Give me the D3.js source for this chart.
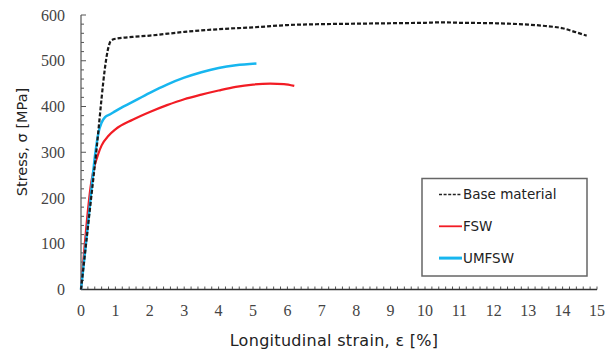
<!DOCTYPE html>
<html>
<head>
<meta charset="utf-8">
<script src="https://cdn.jsdelivr.net/npm/d3@7"></script>
<style>
  body { margin: 0; background: #fff; }
  svg { display: block; }
</style>
</head>
<body>
<div id="chart"></div>
<script>
// stress-strain curves, strain in %, stress in MPa
var baseStrain = [0, 0.4, 0.8, 0.86, 1.0, 1.5, 2, 3, 4, 5, 6, 7, 8, 9, 10, 10.5, 11, 12, 13, 13.5, 14, 14.4, 14.7];
var baseStress = [0, 270, 530, 543, 548, 552, 555, 563, 569, 573, 578, 580, 581, 582, 583, 584, 583, 582, 579, 576, 571, 562, 555];

var fswStrain = [0, 0.3, 0.4, 0.5, 0.6, 0.8, 1.0, 1.5, 2.0, 2.5, 3.0, 3.5, 4.0, 4.5, 5.0, 5.5, 5.9, 6.2];
var fswStress = [0, 235, 272, 296, 315, 336, 350, 371, 388, 403, 416, 426, 435, 443, 448, 450, 449, 445];

var umStrain = [0, 0.2, 0.42, 0.5, 0.6, 0.7, 0.85, 1.0, 1.5, 2.0, 2.5, 3.0, 3.5, 4.0, 4.5, 5.1];
var umStress = [0, 140, 300, 340, 365, 377, 383, 390, 410, 430, 448, 463, 475, 484, 490, 494];

var xTicks = d3.range(0, 16, 1);
var yTicks = [0, 100, 200, 300, 400, 500, 600];
var seriesNames = ["Base material", "FSW", "UMFSW"];

var margin = { top: 15, right: 17, bottom: 63.5, left: 81 },
    width = 614 - margin.left - margin.right,
    height = 353 - margin.top - margin.bottom;

var svg = d3.select("#chart").append("svg")
    .attr("width", 614)
    .attr("height", 353);

var g = svg.append("g")
    .attr("transform", "translate(" + margin.left + "," + margin.top + ")");

var x = d3.scaleLinear().domain([0, 15]).range([0, width]);
var y = d3.scaleLinear().domain([0, 600]).range([height, 0]);

// minor ticks
g.selectAll(".xminor")
    .data(d3.range(0, 75).map(function (i) { return i * 0.2; }).concat([15]))
    .join("line")
    .attr("x1", function (d) { return x(d); })
    .attr("x2", function (d) { return x(d); })
    .attr("y1", height)
    .attr("y2", height - 3)
    .attr("stroke", "#555")
    .attr("stroke-width", 1);

g.selectAll(".yminor")
    .data(d3.range(0, 31).map(function (i) { return i * 20; }))
    .join("line")
    .attr("x1", 0)
    .attr("x2", function (d) { return d % 100 == 0 ? 5 : 3; })
    .attr("y1", function (d) { return y(d); })
    .attr("y2", function (d) { return y(d); })
    .attr("stroke", "#555")
    .attr("stroke-width", 1);

// axis lines
g.append("line")
    .attr("x1", 0).attr("x2", 0)
    .attr("y1", 0).attr("y2", height)
    .attr("stroke", "#555").attr("stroke-width", 1.2);
g.append("line")
    .attr("x1", 0).attr("x2", width)
    .attr("y1", height).attr("y2", height)
    .attr("stroke", "#333").attr("stroke-width", 1.5);

// tick labels
g.selectAll(".xlab")
    .data(xTicks)
    .join("text")
    .attr("x", function (d) { return x(d); })
    .attr("y", height + 26)
    .attr("text-anchor", "middle")
    .attr("font-family", "Liberation Serif")
    .attr("font-size", "16px")
    .attr("fill", "#444")
    .text(function (d) { return d; });

g.selectAll(".ylab")
    .data(yTicks)
    .join("text")
    .attr("x", -16)
    .attr("y", function (d) { return y(d); })
    .attr("dy", "0.35em")
    .attr("text-anchor", "end")
    .attr("font-family", "Liberation Serif")
    .attr("font-size", "16px")
    .attr("fill", "#444")
    .text(function (d) { return d; });

// axis titles
svg.append("text")
    .attr("x", 334)
    .attr("y", 346)
    .attr("text-anchor", "middle")
    .attr("font-family", "DejaVu Sans")
    .attr("font-size", "16px")
    .attr("letter-spacing", "0.3px")
    .attr("fill", "#222")
    .text("Longitudinal strain, ε [%]");

svg.append("text")
    .attr("transform", "translate(27,142) rotate(-90)")
    .attr("text-anchor", "middle")
    .attr("font-family", "DejaVu Sans")
    .attr("font-size", "14.5px")
    .attr("fill", "#222")
    .text("Stress, σ [MPa]");

// curves
var line = d3.line()
    .curve(d3.curveMonotoneX)
    .x(function (d) { return x(d[0]); })
    .y(function (d) { return y(d[1]); });

function pairs(xs, ys) {
    return xs.map(function (v, i) { return [v, ys[i]]; });
}

g.append("path")
    .datum(pairs(fswStrain, fswStress))
    .attr("fill", "none")
    .attr("stroke", "#f21c24")
    .attr("stroke-width", 2.2)
    .attr("d", line);

g.append("path")
    .datum(pairs(umStrain, umStress))
    .attr("fill", "none")
    .attr("stroke", "#17b6ef")
    .attr("stroke-width", 2.5)
    .attr("d", line);

g.append("path")
    .datum(pairs(baseStrain, baseStress))
    .attr("fill", "none")
    .attr("stroke", "#1a1a1a")
    .attr("stroke-width", 2.2)
    .attr("stroke-dasharray", "4,2")
    .attr("d", line);

// legend
var legend = svg.append("g").attr("transform", "translate(422,178.5)");

legend.append("rect")
    .attr("width", 165)
    .attr("height", 97.5)
    .attr("fill", "white")
    .attr("stroke", "#666")
    .attr("stroke-width", 1.5);

var legendStyles = [
    { color: "#222", w: 1.3, dash: "3,1.6" },
    { color: "#f21c24", w: 1.8, dash: null },
    { color: "#17b6ef", w: 3, dash: null }
];

seriesNames.forEach(function (name, i) {
    var ly = 16 + i * 31.8;
    legend.append("line")
        .attr("x1", 17).attr("x2", 40)
        .attr("y1", ly).attr("y2", ly)
        .attr("stroke", legendStyles[i].color)
        .attr("stroke-width", legendStyles[i].w)
        .attr("stroke-dasharray", legendStyles[i].dash);
    legend.append("text")
        .attr("x", 41)
        .attr("y", ly)
        .attr("dy", "0.36em")
        .attr("font-family", "DejaVu Sans")
        .attr("font-size", "13.5px")
        .attr("fill", "#222")
        .text(name);
});
</script>
</body>
</html>
